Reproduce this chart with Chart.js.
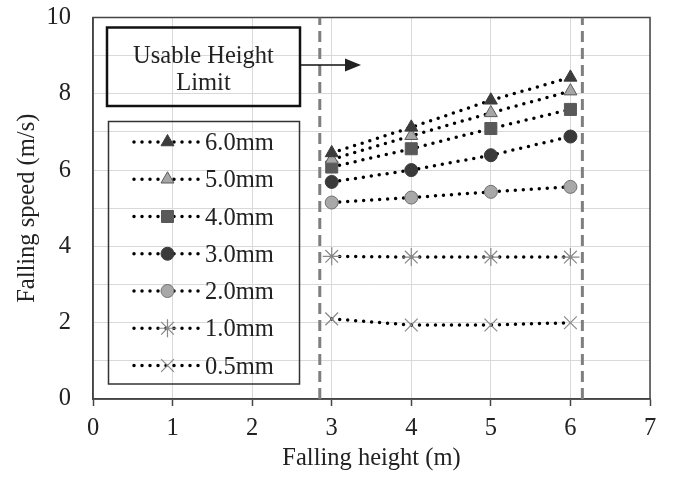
<!DOCTYPE html>
<html>
<head>
<meta charset="utf-8">
<script src="https://cdn.jsdelivr.net/npm/chart.js@4.4.0/dist/chart.umd.min.js"></script>
<style>
  html, body { margin: 0; padding: 0; background: #fff; }
  #wrap { width: 673px; height: 477px; }
</style>
</head>
<body>
<div id="wrap"><canvas id="speedChart" width="673" height="477"></canvas></div>
<script>
// ---- data ----
const heights = [3, 4, 5, 6];
const seriesNames = ['6.0mm', '5.0mm', '4.0mm', '3.0mm', '2.0mm', '1.0mm', '0.5mm'];
const speed60 = [6.45, 7.12, 7.83, 8.43];
const speed50 = [6.28, 6.9, 7.5, 8.07];
const speed40 = [6.08, 6.56, 7.09, 7.59];
const speed30 = [5.69, 6.0, 6.39, 6.88];
const speed20 = [5.15, 5.28, 5.43, 5.56];
const speed10 = [3.74, 3.72, 3.72, 3.72];
const speed05 = [2.1, 1.94, 1.94, 2.0];
const limitHeights = [2.85, 6.15];
const xTicks = [0, 1, 2, 3, 4, 5, 6, 7];
const yTicks = [0, 2, 4, 6, 8, 10];

const FONT = 'Liberation Serif, Times New Roman, serif';
const FS = 24.5;

const styles = [
  { pointStyle: 'triangle', radius: 7.5, fill: '#3c3c3c', border: '#3c3c3c', bw: 1 },
  { pointStyle: 'triangle', radius: 7.5, fill: '#a6a6a6', border: '#5a5a5a', bw: 1 },
  { pointStyle: 'rect', radius: 8.5, fill: '#595959', border: '#595959', bw: 1 },
  { pointStyle: 'circle', radius: 6.5, fill: '#3a3a3a', border: '#3a3a3a', bw: 1 },
  { pointStyle: 'circle', radius: 6.5, fill: '#a8a8a8', border: '#707070', bw: 1 },
  { pointStyle: 'star', radius: 9, fill: '#888', border: '#888', bw: 1.2 },
  { pointStyle: 'crossRot', radius: 9, fill: '#888', border: '#888', bw: 1.2 }
];
const allSpeeds = [speed60, speed50, speed40, speed30, speed20, speed10, speed05];

const datasets = allSpeeds.map((arr, i) => ({
  label: seriesNames[i],
  data: heights.map((h, j) => ({ x: h, y: arr[j] })),
  showLine: true,
  borderColor: '#000',
  borderWidth: 3.5,
  borderDash: [0, 8],
  borderCapStyle: 'round',
  pointStyle: styles[i].pointStyle,
  pointRadius: styles[i].radius,
  pointBackgroundColor: styles[i].fill,
  pointBorderColor: styles[i].border,
  pointBorderWidth: styles[i].bw,
  isSeries: true
}));

// usable height limits (dashed vertical lines)
limitHeights.forEach(h => {
  datasets.push({
    label: 'limit',
    data: [{ x: h, y: 0 }, { x: h, y: 10 }],
    showLine: true,
    borderColor: '#7f7f7f',
    borderWidth: 3,
    borderDash: [11, 6],
    pointRadius: 0,
    isSeries: false
  });
});

// frame, note box with arrow, legend box
const decor = {
  id: 'decor',
  beforeDatasetsDraw(chart) {
    const { ctx, chartArea: a } = chart;
    ctx.save();
    ctx.strokeStyle = '#444';
    ctx.lineWidth = 1.5;
    ctx.strokeRect(a.left, a.top, a.right - a.left, a.bottom - a.top);
    ctx.restore();
  },
  afterDatasetsDraw(chart) {
    const { ctx, chartArea: a } = chart;
    const L = a.left, T = a.top;
    ctx.save();

    // note box
    ctx.strokeStyle = '#111';
    ctx.lineWidth = 2.5;
    ctx.strokeRect(L + 14, T + 10, 193, 78.5);
    ctx.fillStyle = '#222';
    ctx.font = FS + 'px ' + FONT;
    ctx.textAlign = 'center';
    ctx.textBaseline = 'alphabetic';
    ctx.fillText('Usable Height', L + 110.5, T + 45);
    ctx.fillText('Limit', L + 110.5, T + 72.5);

    // arrow
    ctx.lineWidth = 1.5;
    ctx.beginPath();
    ctx.moveTo(L + 207, T + 47.5);
    ctx.lineTo(L + 254, T + 47.5);
    ctx.stroke();
    ctx.beginPath();
    ctx.moveTo(L + 268, T + 47.5);
    ctx.lineTo(L + 252, T + 41);
    ctx.lineTo(L + 252, T + 54);
    ctx.closePath();
    ctx.fill();

    // legend box
    ctx.strokeStyle = '#333';
    ctx.lineWidth = 1.5;
    ctx.strokeRect(L + 15.5, T + 104, 191, 262.5);

    const rowY0 = T + 124.5, rowGap = 37.25;
    chart.data.datasets.forEach((ds, i) => {
      if (!ds.isSeries) return;
      const y = rowY0 + i * rowGap;
      ctx.save();
      ctx.strokeStyle = '#000';
      ctx.lineWidth = 3.5;
      ctx.lineCap = 'round';
      ctx.setLineDash([0, 8]);
      ctx.beginPath();
      ctx.moveTo(L + 41, y);
      ctx.lineTo(L + 110, y);
      ctx.stroke();
      ctx.restore();

      ctx.save();
      ctx.fillStyle = ds.pointBackgroundColor;
      ctx.strokeStyle = ds.pointBorderColor;
      ctx.lineWidth = ds.pointBorderWidth;
      Chart.helpers.drawPoint(ctx, {
        pointStyle: ds.pointStyle,
        radius: ds.pointRadius,
        rotation: 0,
        borderWidth: ds.pointBorderWidth
      }, L + 74.5, y);
      ctx.restore();

      ctx.fillStyle = '#222';
      ctx.font = FS + 'px ' + FONT;
      ctx.textAlign = 'left';
      ctx.textBaseline = 'alphabetic';
      ctx.fillText(ds.label, L + 112, y + 8);
    });
    ctx.restore();
  }
};

new Chart(document.getElementById('speedChart'), {
  type: 'scatter',
  data: { datasets },
  options: {
    responsive: false,
    animation: false,
    layout: { padding: { left: 0, right: 23, top: 17.5, bottom: 0 } },
    plugins: {
      legend: { display: false },
      tooltip: { enabled: false }
    },
    scales: {
      x: {
        type: 'linear',
        min: 0,
        max: 7,
        afterBuildTicks: s => { s.ticks = xTicks.map(v => ({ value: v })); },
        afterFit: s => { s.height = 78; s.paddingLeft = 0; s.paddingRight = 0; },
        grid: { color: '#d9d9d9', lineWidth: 1, tickLength: 7, tickColor: '#444', tickWidth: 1.5 },
        border: { color: '#444', width: 1.5 },
        ticks: { color: '#222', padding: 8, font: { family: FONT, size: FS } },
        title: {
          display: true,
          text: 'Falling height (m)',
          color: '#222',
          padding: { top: 0, bottom: 4 },
          font: { family: FONT, size: FS }
        }
      },
      y: {
        type: 'linear',
        min: 0,
        max: 10,
        ticks: {
          stepSize: 1,
          color: '#222',
          padding: 22,
          font: { family: FONT, size: FS },
          callback: v => yTicks.includes(v) ? v : ''
        },
        afterFit: s => { s.width = 93; s.paddingTop = 0; s.paddingBottom = 0; },
        grid: { color: '#d9d9d9', lineWidth: 1, drawTicks: false },
        border: { color: '#444', width: 1.5 },
        title: {
          display: true,
          text: 'Falling speed (m/s)',
          color: '#222',
          padding: { top: 13, bottom: 0 },
          font: { family: FONT, size: FS }
        }
      }
    }
  },
  plugins: [decor]
});
</script>
</body>
</html>
